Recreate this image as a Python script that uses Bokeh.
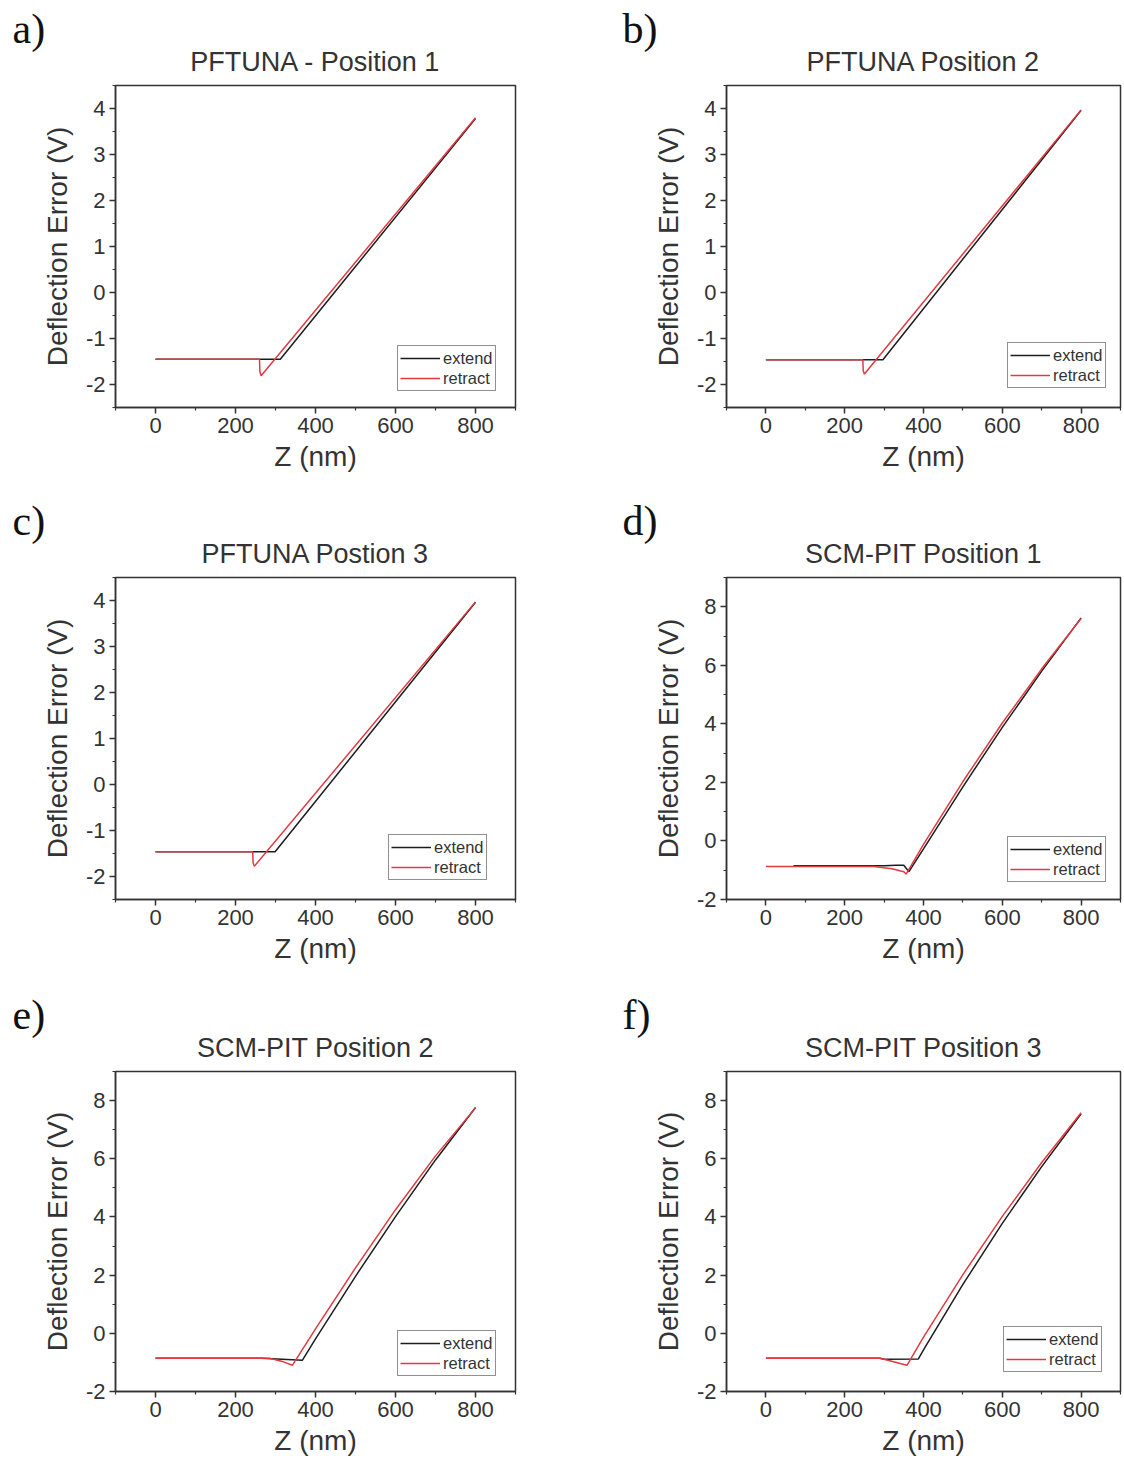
from bokeh.plotting import figure
from bokeh.models import Range1d, Title, Legend, LegendItem, FixedTicker
from bokeh.layouts import gridplot
from bokeh.embed import file_html
from bokeh.resources import INLINE

# ---------------- data ----------------
panel_letters = ["a)", "b)", "c)", "d)", "e)", "f)"]
panel_titles = ["PFTUNA - Position 1", "PFTUNA Position 2", "PFTUNA Postion 3",
                "SCM-PIT Position 1", "SCM-PIT Position 2", "SCM-PIT Position 3"]
series_names = ["extend", "retract"]
x_label = "Z (nm)"
y_label = "Deflection Error (V)"

x_ticks = [0, 200, 400, 600, 800]
x_minor = [-100, 100, 300, 500, 700, 900]
y_ticks_pftuna = [-2, -1, 0, 1, 2, 3, 4]
y_minor_pftuna = [-2.5, -1.5, -0.5, 0.5, 1.5, 2.5, 3.5, 4.5]
y_ticks_scm = [-2, 0, 2, 4, 6, 8]
y_minor_scm = [-1, 1, 3, 5, 7, 9]

# panel a
a_extend_z = [0, 312, 800]
a_extend_v = [-1.45, -1.45, 3.78]
a_retract_z = [0, 260, 261, 264, 800]
a_retract_v = [-1.45, -1.45, -1.72, -1.81, 3.80]
# panel b
b_extend_z = [0, 297, 800]
b_extend_v = [-1.46, -1.46, 3.96]
b_retract_z = [0, 246, 247, 250, 800]
b_retract_v = [-1.46, -1.46, -1.70, -1.77, 3.97]
# panel c
c_extend_z = [0, 299, 800]
c_extend_v = [-1.46, -1.46, 3.96]
c_retract_z = [0, 243, 244, 247, 800]
c_retract_v = [-1.46, -1.46, -1.70, -1.78, 3.97]
# panel d
d_extend_z = [70, 300, 330, 350, 363, 400, 500, 600, 700, 800]
d_extend_v = [-0.85, -0.85, -0.83, -0.83, -1.05, -0.27, 1.85, 3.88, 5.80, 7.62]
d_retract_z = [0, 273, 320, 350, 356, 400, 500, 600, 700, 800]
d_retract_v = [-0.87, -0.87, -0.95, -1.05, -1.13, -0.12, 2.03, 4.03, 5.88, 7.60]
# panel e
e_extend_z = [0, 266, 367, 400, 500, 600, 700, 800]
e_extend_v = [-0.86, -0.86, -0.93, -0.19, 1.96, 4.01, 5.96, 7.76]
e_retract_z = [0, 285, 320, 342, 400, 500, 600, 700, 800]
e_retract_v = [-0.86, -0.86, -0.98, -1.10, 0.15, 2.25, 4.25, 6.10, 7.75]
# panel f
f_extend_z = [0, 289, 300, 387, 400, 500, 600, 700, 800]
f_extend_v = [-0.86, -0.86, -0.89, -0.88, -0.57, 1.68, 3.78, 5.73, 7.55]
f_retract_z = [0, 290, 358, 400, 500, 600, 700, 800]
f_retract_v = [-0.86, -0.86, -1.10, -0.13, 2.02, 4.02, 5.87, 7.58]

EXT_COLOR = "#1c1c1c"
RET_COLOR = "#e23a40"
TXT = "#333333"
SANS = "Liberation Sans"


def make_panel(idx, ez, ev, rz, rv, yr, yt, ym, legend_xy):
    col = idx % 2
    row = idx // 2
    if col == 0:
        fw, bl, br = 400, 115, 45
    else:
        fw, bl, br = 394, 166, 2
    if row == 0:
        fh, bt, bb = 322, 85, 86
    elif row == 1:
        fh, bt, bb = 322, 84, 88
    else:
        fh, bt, bb = 320, 84, 73
    p = figure(frame_width=fw, frame_height=fh,
               min_border_left=bl, min_border_right=br,
               min_border_top=bt, min_border_bottom=bb,
               x_range=Range1d(-100, 900), y_range=Range1d(*yr),
               output_backend="svg", toolbar_location=None, title=None)
    p.grid.visible = False
    p.outline_line_color = TXT
    p.outline_line_width = 1.5
    p.background_fill_color = "white"
    p.border_fill_color = "white"

    r_ext = p.line(ez, ev, line_color=EXT_COLOR, line_width=1.5)
    r_ret = p.line(rz, rv, line_color=RET_COLOR, line_width=1.5)

    p.xaxis.ticker = FixedTicker(ticks=x_ticks, minor_ticks=x_minor)
    p.yaxis.ticker = FixedTicker(ticks=yt, minor_ticks=ym)
    p.yaxis.major_label_overrides = {t: str(t) for t in yt}
    for ax in (p.xaxis[0], p.yaxis[0]):
        ax.axis_line_color = TXT
        ax.axis_line_width = 1.5
        ax.major_tick_line_color = TXT
        ax.major_tick_line_width = 1.5
        ax.minor_tick_line_color = TXT
        ax.minor_tick_line_width = 1.2
        ax.major_tick_in = 0
        ax.major_tick_out = 6
        ax.minor_tick_in = 0
        ax.minor_tick_out = 3
        ax.major_label_text_font = SANS
        ax.major_label_text_font_size = "22px"
        ax.major_label_text_color = TXT
        ax.major_label_standoff = 4
        ax.axis_label_text_font = SANS
        ax.axis_label_text_font_size = "28px"
        ax.axis_label_text_font_style = "normal"
        ax.axis_label_text_color = TXT
    p.xaxis.axis_label = x_label
    p.xaxis.axis_label_standoff = 5
    p.yaxis.axis_label = y_label
    p.yaxis.axis_label_standoff = 10

    t_main = Title(text=panel_titles[idx], align="center", text_font=SANS,
                   text_font_size="27px", text_font_style="normal",
                   text_color=TXT, standoff=17)
    t_letter = Title(text=panel_letters[idx], align="left",
                     offset=-103 if col == 0 else -104,
                     text_font="Liberation Serif", text_font_size="42px",
                     text_font_style="normal", text_color="#111111",
                     standoff=-30)
    p.add_layout(t_main, "above")
    p.add_layout(t_letter, "above")

    legend = Legend(items=[LegendItem(label=series_names[0], renderers=[r_ext]),
                           LegendItem(label=series_names[1], renderers=[r_ret])],
                    location=legend_xy)
    legend.border_line_color = "#222222"
    legend.border_line_width = 1.5
    legend.padding = 2
    legend.spacing = 0
    legend.margin = 0
    legend.glyph_width = 40
    legend.glyph_height = 20
    legend.label_height = 20
    legend.label_standoff = 3
    legend.label_text_font = SANS
    legend.label_text_font_size = "16.5px"
    legend.label_text_color = TXT
    legend.background_fill_alpha = 1.0
    p.add_layout(legend)
    return p


pa = make_panel(0, a_extend_z, a_extend_v, a_retract_z, a_retract_v,
                (-2.5, 4.5), y_ticks_pftuna, y_minor_pftuna, (282, 16))
pb = make_panel(1, b_extend_z, b_extend_v, b_retract_z, b_retract_v,
                (-2.5, 4.5), y_ticks_pftuna, y_minor_pftuna, (281, 19))
pc = make_panel(2, c_extend_z, c_extend_v, c_retract_z, c_retract_v,
                (-2.5, 4.5), y_ticks_pftuna, y_minor_pftuna, (273, 19))
pd = make_panel(3, d_extend_z, d_extend_v, d_retract_z, d_retract_v,
                (-2, 9), y_ticks_scm, y_minor_scm, (281, 17))
pe = make_panel(4, e_extend_z, e_extend_v, e_retract_z, e_retract_v,
                (-2, 9), y_ticks_scm, y_minor_scm, (282, 15))
pf = make_panel(5, f_extend_z, f_extend_v, f_retract_z, f_retract_v,
                (-2, 9), y_ticks_scm, y_minor_scm, (277, 19))

grid = gridplot([[pa, pb], [pc, pd], [pe, pf]], toolbar_location=None)

open("out.html", "w").write(file_html(grid, INLINE))
